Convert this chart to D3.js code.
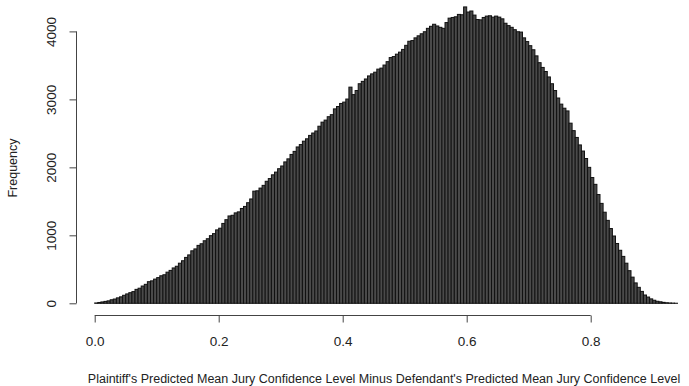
<!DOCTYPE html>
<html>
<head>
<meta charset="utf-8">
<script src="https://cdn.jsdelivr.net/npm/d3@7/dist/d3.min.js"></script>
<style>
  html, body { margin: 0; padding: 0; background: #fff; }
  svg { display: block; font-family: "Liberation Sans", Arial, Helvetica, sans-serif; }
</style>
</head>
<body>
<svg id="chart" width="689" height="386"></svg>
<script>
// Histogram bins: width 0.005, starting at 0
const binStart = 0;
const binWidth = 0.005;
const counts = [
  5, 12, 20, 28, 36, 52, 63, 80, 95, 118,
  138, 156, 172, 205, 222, 254, 279, 318, 330, 356,
  378, 405, 420, 458, 484, 520, 545, 590, 626, 675,
  712, 772, 800, 852, 876, 920, 950, 995, 1025, 1080,
  1105, 1175, 1230, 1285, 1295, 1330, 1345, 1395, 1425, 1480,
  1535, 1650, 1655, 1695, 1735, 1795, 1835, 1890, 1930, 1980,
  2020, 2080, 2125, 2190, 2235, 2300, 2335, 2385, 2420, 2470,
  2505, 2535, 2605, 2665, 2695, 2745, 2775, 2860, 2895, 2940,
  2960, 3005, 3180, 3070, 3130, 3230, 3265, 3300, 3345, 3375,
  3400, 3445, 3460, 3505, 3555, 3615, 3630, 3665, 3695, 3735,
  3795, 3855, 3865, 3905, 3935, 3965, 3995, 4045, 4075, 4105,
  4080, 4060, 4045, 4130, 4195, 4205, 4215, 4250, 4245, 4360,
  4285, 4300, 4240, 4175, 4170, 4205, 4225, 4230, 4210, 4225,
  4210, 4185, 4120, 4085, 4060, 4025, 3995, 3990, 3905, 3850,
  3790, 3730, 3640, 3540, 3470, 3410, 3330, 3230, 3130, 3020,
  2930, 2870, 2830, 2650, 2540, 2440, 2330, 2240, 2130, 2000,
  1850, 1750, 1600, 1470, 1340, 1220, 1100, 990, 880, 780,
  690, 590, 480, 385, 300, 235, 175, 122, 92, 65,
  45, 30, 22, 14, 8, 5, 3, 1
];

const xTicks = [0.0, 0.2, 0.4, 0.6, 0.8];
const yTicks = [0, 1000, 2000, 3000, 4000];

const xTitle = "Plaintiff's Predicted Mean Jury Confidence Level Minus Defendant's Predicted Mean Jury Confidence Level";
const yTitle = "Frequency";

const bins = counts.map((c, i) => ({
  x0: binStart + i * binWidth,
  x1: binStart + (i + 1) * binWidth,
  count: c
}));

const svg = d3.select("#chart");

const x = d3.scaleLinear().domain([0, 1]).range([94.7, 714.7]);
const y = d3.scaleLinear().domain([0, 4000]).range([303.3, 31.4]);

// bars
svg.append("g")
  .selectAll("rect")
  .data(bins)
  .join("rect")
  .attr("x", d => x(d.x0))
  .attr("width", d => x(d.x1) - x(d.x0))
  .attr("y", d => y(d.count))
  .attr("height", d => y(0) - y(d.count))
  .attr("fill", "#4a4a4a")
  .attr("stroke", "#111")
  .attr("stroke-width", 1);

// x axis (R style, detached below the plot)
const xAxis = svg.append("g")
  .attr("transform", "translate(0,315.5)")
  .call(d3.axisBottom(x).tickValues(xTicks).tickFormat(d3.format(".1f")).tickSize(7).tickPadding(14).tickSizeOuter(0));
xAxis.select(".domain").attr("d", `M${x(xTicks[0])},0H${x(xTicks[xTicks.length - 1])}`);

// y axis
const yAxis = svg.append("g")
  .attr("transform", "translate(76.5,0)")
  .call(d3.axisLeft(y).tickValues(yTicks).tickFormat(d3.format("d")).tickSize(7).tickSizeOuter(0));
yAxis.select(".domain").attr("d", `M0,${y(yTicks[0])}V${y(yTicks[yTicks.length - 1])}`);
yAxis.selectAll(".tick text")
  .attr("transform", "rotate(-90)")
  .attr("x", 0)
  .attr("y", -20.5)
  .attr("dy", 0)
  .attr("text-anchor", "middle");

svg.selectAll(".domain, .tick line").attr("stroke", "#444");
svg.selectAll(".tick text").attr("fill", "#222").style("font-size", "13.5px").style("font-family", "'Liberation Sans', Arial, sans-serif");

// axis titles
svg.append("text")
  .attr("x", 384)
  .attr("y", 383)
  .attr("text-anchor", "middle")
  .attr("fill", "#222")
  .style("font-size", "12.5px")
  .text(xTitle);

svg.append("text")
  .attr("transform", "translate(17,168) rotate(-90)")
  .attr("text-anchor", "middle")
  .attr("fill", "#222")
  .style("font-size", "12.5px")
  .text(yTitle);
</script>
</body>
</html>
